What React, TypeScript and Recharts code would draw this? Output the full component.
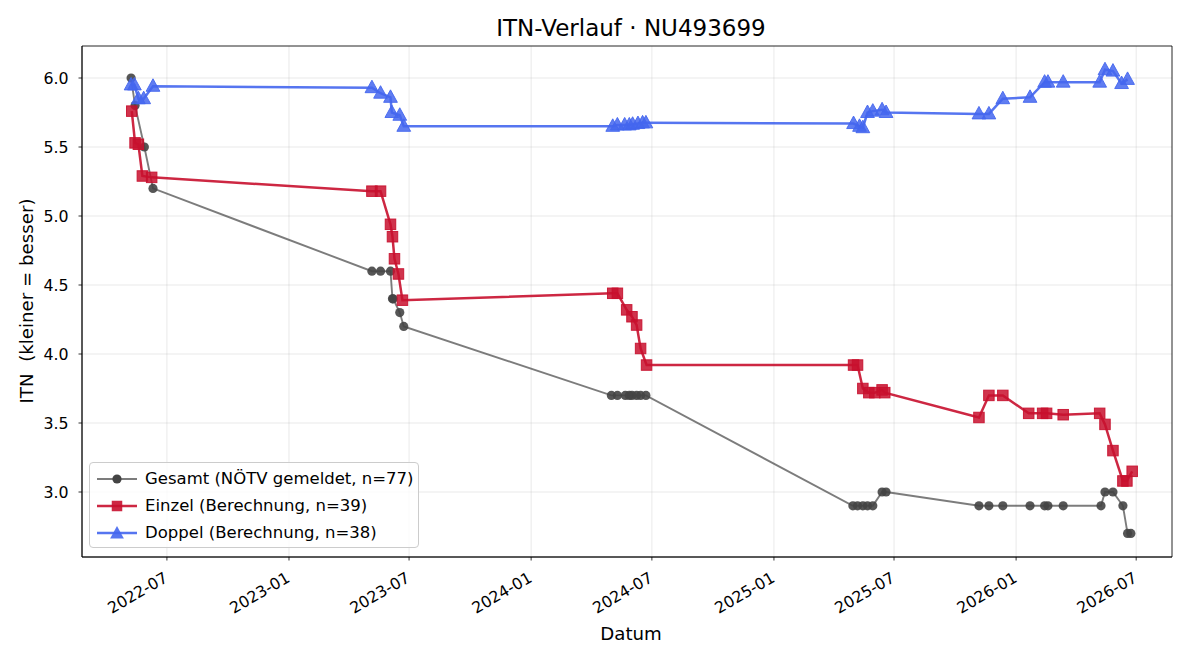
import React from "react";
import {
  LineChart,
  Line,
  XAxis,
  YAxis,
  CartesianGrid,
  ReferenceArea,
} from "recharts";

// ---- data -----------------------------------------------------------------
const gesamtDates = [
  "2022-05-08", "2022-05-14", "2022-05-28", "2022-06-10",
  "2023-05-06", "2023-05-19", "2023-06-03", "2023-06-06", "2023-06-07", "2023-06-17", "2023-06-23",
  "2024-05-01", "2024-05-10", "2024-05-22", "2024-05-28", "2024-06-01", "2024-06-08", "2024-06-14", "2024-06-22",
  "2025-04-30", "2025-05-07", "2025-05-15", "2025-05-22", "2025-05-30", "2025-06-13", "2025-06-19",
  "2025-11-06", "2025-11-21", "2025-12-12", "2026-01-22", "2026-02-13", "2026-02-18", "2026-03-13",
  "2026-05-09", "2026-05-15", "2026-05-27", "2026-06-11", "2026-06-18", "2026-06-23",
];
const gesamtValues = [
  6.0, 5.8, 5.5, 5.2,
  4.6, 4.6, 4.6, 4.4, 4.4, 4.3, 4.2,
  3.7, 3.7, 3.7, 3.7, 3.7, 3.7, 3.7, 3.7,
  2.9, 2.9, 2.9, 2.9, 2.9, 3.0, 3.0,
  2.9, 2.9, 2.9, 2.9, 2.9, 2.9, 2.9,
  2.9, 3.0, 3.0, 2.9, 2.7, 2.7,
];

const einzelDates = [
  "2022-05-09", "2022-05-14", "2022-05-19", "2022-05-25", "2022-06-08",
  "2023-05-06", "2023-05-19", "2023-06-03", "2023-06-06", "2023-06-09", "2023-06-15", "2023-06-21",
  "2024-05-03", "2024-05-10", "2024-05-24", "2024-06-01", "2024-06-08", "2024-06-14", "2024-06-23",
  "2025-05-01", "2025-05-07", "2025-05-15", "2025-05-24", "2025-06-02", "2025-06-13", "2025-06-17",
  "2025-11-06", "2025-11-21", "2025-12-12", "2026-01-20", "2026-02-10", "2026-02-16", "2026-03-13",
  "2026-05-07", "2026-05-15", "2026-05-27", "2026-06-11", "2026-06-17", "2026-06-25",
];
const einzelValues = [
  5.76, 5.53, 5.52, 5.29, 5.28,
  5.18, 5.18, 4.94, 4.85, 4.69, 4.58, 4.39,
  4.44, 4.44, 4.32, 4.27, 4.21, 4.04, 3.92,
  3.92, 3.92, 3.75, 3.72, 3.72, 3.74, 3.72,
  3.54, 3.70, 3.70, 3.57, 3.57, 3.57, 3.56,
  3.57, 3.49, 3.30, 3.08, 3.08, 3.15,
];

const doppelDates = [
  "2022-05-08", "2022-05-13", "2022-05-19", "2022-05-27", "2022-06-10",
  "2023-05-06", "2023-05-19", "2023-06-03", "2023-06-05", "2023-06-17", "2023-06-23",
  "2024-05-03", "2024-05-10", "2024-05-21", "2024-05-28", "2024-06-02", "2024-06-10", "2024-06-17", "2024-06-22",
  "2025-05-01", "2025-05-10", "2025-05-15", "2025-05-22", "2025-05-30", "2025-06-13", "2025-06-19",
  "2025-11-06", "2025-11-21", "2025-12-12", "2026-01-22", "2026-02-13", "2026-02-18", "2026-03-13",
  "2026-05-07", "2026-05-15", "2026-05-27", "2026-06-09", "2026-06-18",
];
const doppelValues = [
  5.95, 5.95, 5.85, 5.85, 5.94,
  5.93, 5.89, 5.86, 5.75, 5.73, 5.65,
  5.65, 5.66, 5.66, 5.66, 5.665, 5.67, 5.675, 5.675,
  5.67, 5.65, 5.64, 5.75, 5.76, 5.77, 5.75,
  5.74, 5.74, 5.85, 5.86, 5.97, 5.97, 5.97,
  5.97, 6.06, 6.05, 5.96, 5.99,
];

const xTickLabels = [
  "2022-07", "2023-01", "2023-07", "2024-01", "2024-07",
  "2025-01", "2025-07", "2026-01", "2026-07",
];
const yTicks = [3.0, 3.5, 4.0, 4.5, 5.0, 5.5, 6.0];

const X_MIN = "2022-02-23";
const X_MAX = "2026-08-24";
const Y_MIN = 2.529;
const Y_MAX = 6.232;

// ---- helpers --------------------------------------------------------------
const ts = (d: string) => Date.parse(d);
const toSeries = (dates: string[], values: number[]) =>
  dates.map((d, i) => ({ t: ts(d), v: values[i] }));

const gesamt = toSeries(gesamtDates, gesamtValues);
const einzel = toSeries(einzelDates, einzelValues);
const doppel = toSeries(doppelDates, doppelValues);
const xTicks = xTickLabels.map((l) => ts(l + "-01"));

const FONT = "'DejaVu Sans', sans-serif";
const TICK_FS = 15.8;
const LABEL_FS = 18.2;
const LEGEND_FS = 16.5;
const TITLE_FS = 23;
const GRAY = "#444444";
const RED = "#c8102e";
const BLUE = "#4466ee";

const fmtMonth = (t: number) => {
  const d = new Date(t);
  const m = d.getUTCMonth() + 1;
  return `${d.getUTCFullYear()}-${m < 10 ? "0" + m : m}`;
};

// rotated date label whose upper-right corner sits just below the tick
const XTick = (props: any) => {
  const { x, y, payload } = props;
  const ax = x - 4;
  const ay = y + 8;
  return (
    <text
      x={ax}
      y={ay}
      transform={`rotate(-30, ${ax}, ${ay})`}
      textAnchor="end"
      dominantBaseline="hanging"
      fontSize={TICK_FS}
      fontFamily={FONT}
      fill="#000"
    >
      {fmtMonth(payload.value)}
    </text>
  );
};

const YTick = (props: any) => {
  const { x, y, payload } = props;
  return (
    <text
      x={x - 8}
      y={y}
      textAnchor="end"
      dominantBaseline="central"
      fontSize={TICK_FS}
      fontFamily={FONT}
      fill="#000"
    >
      {Number(payload.value).toFixed(1)}
    </text>
  );
};

const CircleDot = (props: any) => {
  const { cx, cy, index } = props;
  return <circle key={`g-${index}`} cx={cx} cy={cy} r={4.6} fill={GRAY} fillOpacity={0.9} stroke="none" />;
};

const SquareDot = (props: any) => {
  const { cx, cy, index } = props;
  const s = 10.5;
  return (
    <rect
      key={`e-${index}`}
      x={cx - s / 2}
      y={cy - s / 2}
      width={s}
      height={s}
      fill={RED}
      fillOpacity={0.85}
      stroke={RED}
      strokeOpacity={0.9}
      strokeWidth={1}
    />
  );
};

const triPath = (cx: number, cy: number, s: number) =>
  `M${cx},${cy - s * 0.6} L${cx + s * 0.55},${cy + s * 0.4} L${cx - s * 0.55},${cy + s * 0.4} Z`;

const TriangleDot = (props: any) => {
  const { cx, cy, index } = props;
  return (
    <path
      key={`d-${index}`}
      d={triPath(cx, cy, 12.5)}
      fill={BLUE}
      fillOpacity={0.85}
      stroke={BLUE}
      strokeOpacity={0.9}
      strokeWidth={1}
    />
  );
};

const legendItems = [
  { label: "Gesamt (NÖTV gemeldet, n=77)", kind: "circle", color: GRAY, lineOpacity: 0.7, lw: 1.9 },
  { label: "Einzel (Berechnung, n=39)", kind: "square", color: RED, lineOpacity: 0.9, lw: 2.5 },
  { label: "Doppel (Berechnung, n=38)", kind: "triangle", color: BLUE, lineOpacity: 0.9, lw: 2.5 },
];

const LegendBox = () => (
  <div
    style={{
      position: "absolute",
      left: 89,
      top: 462,
      width: 330,
      height: 86,
      boxSizing: "border-box",
      border: "1px solid #cccccc",
      borderRadius: 4,
      background: "rgba(255,255,255,0.8)",
      fontFamily: FONT,
      fontSize: LEGEND_FS,
      color: "#000",
      paddingTop: 2,
    }}
  >
    {legendItems.map((it) => (
      <div key={it.label} style={{ display: "flex", alignItems: "center", height: 27 }}>
        <svg width={52} height={20} style={{ marginLeft: 3, flex: "none" }}>
          <line x1={4} y1={10} x2={44} y2={10} stroke={it.color} strokeOpacity={it.lineOpacity} strokeWidth={it.lw} />
          {it.kind === "circle" && <circle cx={24} cy={10} r={4.6} fill={it.color} />}
          {it.kind === "square" && <rect x={18.75} y={4.75} width={10.5} height={10.5} fill={it.color} fillOpacity={0.9} />}
          {it.kind === "triangle" && <path d={triPath(24, 10.5, 12.5)} fill={it.color} fillOpacity={0.9} />}
        </svg>
        <span style={{ whiteSpace: "nowrap" }}>{it.label}</span>
      </div>
    ))}
  </div>
);

export default function App() {
  return (
    <div style={{ position: "absolute", left: 0, top: 0, width: 1200, height: 660, background: "#fff" }}>
      <LineChart
        width={1200}
        height={660}
        margin={{ top: 46, right: 28, bottom: 43, left: 22 }}
      >
        <CartesianGrid stroke="#b0b0b0" strokeOpacity={0.35} strokeWidth={0.8} />
        <XAxis
          dataKey="t"
          type="number"
          scale="time"
          domain={[ts(X_MIN), ts(X_MAX)]}
          ticks={xTicks}
          allowDataOverflow
          height={60}
          tick={<XTick />}
          tickSize={3.5}
          tickLine={{ stroke: "#000", strokeWidth: 0.8 }}
          axisLine={{ stroke: "#000", strokeWidth: 0.8 }}
        />
        <YAxis
          dataKey="v"
          type="number"
          domain={[Y_MIN, Y_MAX]}
          ticks={yTicks}
          allowDataOverflow
          width={60}
          tick={<YTick />}
          tickSize={3.5}
          tickLine={{ stroke: "#000", strokeWidth: 0.8 }}
          axisLine={{ stroke: "#000", strokeWidth: 0.8 }}
        />
        <ReferenceArea
          x1={ts(X_MIN)}
          x2={ts(X_MAX)}
          y1={Y_MIN}
          y2={Y_MAX}
          fill="none"
          stroke="#000"
          strokeWidth={0.8}
          ifOverflow="visible"
        />
        <Line
          data={gesamt}
          dataKey="v"
          name="Gesamt"
          stroke={GRAY}
          strokeOpacity={0.7}
          strokeWidth={1.9}
          dot={<CircleDot />}
          activeDot={false}
          isAnimationActive={false}
        />
        <Line
          data={einzel}
          dataKey="v"
          name="Einzel"
          stroke={RED}
          strokeOpacity={0.9}
          strokeWidth={2.5}
          dot={<SquareDot />}
          activeDot={false}
          isAnimationActive={false}
        />
        <Line
          data={doppel}
          dataKey="v"
          name="Doppel"
          stroke={BLUE}
          strokeOpacity={0.9}
          strokeWidth={2.5}
          dot={<TriangleDot />}
          activeDot={false}
          isAnimationActive={false}
        />
        <text x={631} y={28} textAnchor="middle" dominantBaseline="central" fontSize={TITLE_FS} fontFamily={FONT} fill="#000">
          ITN-Verlauf · NU493699
        </text>
        <text x={631} y={633} textAnchor="middle" dominantBaseline="central" fontSize={LABEL_FS} fontFamily={FONT} fill="#000">
          Datum
        </text>
        <text
          x={26}
          y={301}
          transform="rotate(-90, 26, 301)"
          textAnchor="middle"
          dominantBaseline="central"
          fontSize={LABEL_FS}
          fontFamily={FONT}
          fill="#000"
          style={{ whiteSpace: "pre" }}
        >
          {"ITN  (kleiner = besser)"}
        </text>
      </LineChart>
      <LegendBox />
    </div>
  );
}
